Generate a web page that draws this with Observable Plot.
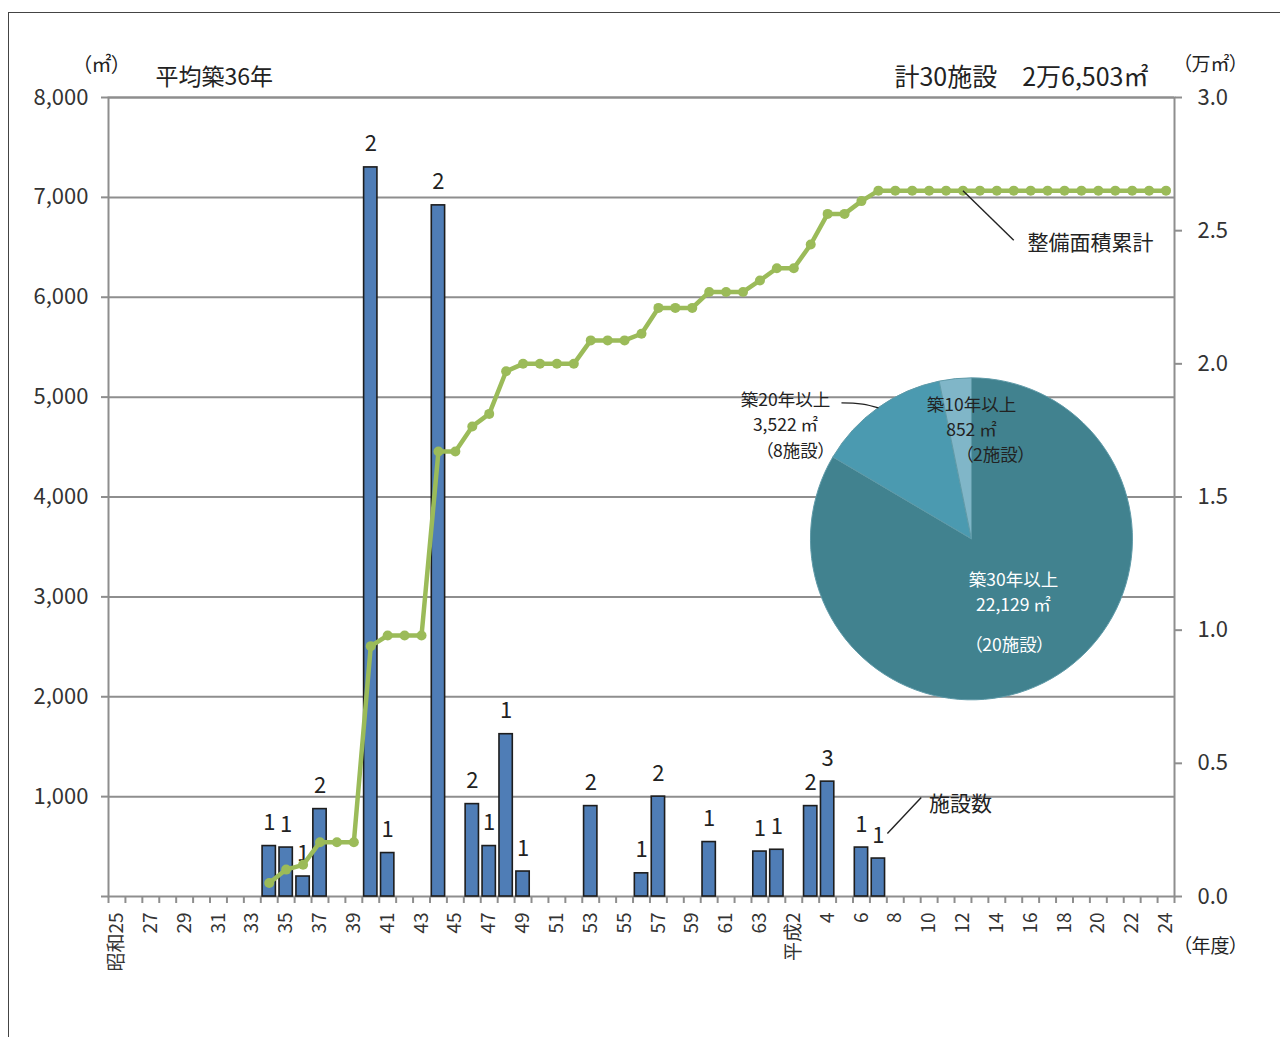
<!DOCTYPE html>
<html><head><meta charset="utf-8">
<script src="https://cdn.jsdelivr.net/npm/d3@7"></script>
<script src="https://cdn.jsdelivr.net/npm/@observablehq/plot@0.6"></script>
<style>
body{margin:0;background:#fff;overflow:hidden}
#wrap{position:relative;width:1280px;height:1037px;overflow:hidden}
#border{position:absolute;left:8px;top:12px;width:1400px;height:1200px;border:1.5px solid #444;pointer-events:none}
#wrap svg{position:absolute;left:0;top:0;font-feature-settings:"palt"}
</style></head><body><div id="wrap"><div id="border"></div></div>
<script>
// ---- categories (fiscal years, 昭和25 = 1950 … 平成24 = 2012)
const fiscalYears = d3.range(1950, 2013);
const tickYears = [1950,1952,1954,1956,1958,1960,1962,1964,1966,1968,1970,1972,1974,1976,1978,1980,1982,1984,1986,1988,1990,1992,1994,1996,1998,2000,2002,2004,2006,2008,2010,2012];
const tickLabels = ["昭和25","27","29","31","33","35","37","39","41","43","45","47","49","51","53","55","57","59","61","63","平成2","4","6","8","10","12","14","16","18","20","22","24"];

// ---- bars: area built per year (㎡) and number of facilities
const barYears  = [1959,1960,1961,1962,1965,1966,1969,1971,1972,1973,1974,1978,1981,1982,1985,1988,1989,1991,1992,1994,1995];
const barAreas  = [505,490,200,875,7300,435,6920,925,505,1625,250,905,232,1000,545,450,468,905,1150,490,380];
const barCounts = [1,1,1,2,2,1,2,2,1,1,1,2,1,2,1,1,1,2,3,1,1];

// ---- cumulative area (㎡), right axis in 万㎡
const cumYears = d3.range(1959, 2013);
const cumAreas = [510,1010,1190,2040,2040,2040,9400,9800,9800,9800,16710,16710,17650,18120,19720,20000,20000,20000,20000,20880,20880,20880,21130,22100,22100,22100,22700,22700,22700,23130,23590,23590,24480,25630,25630,26110,26503,26503,26503,26503,26503,26503,26503,26503,26503,26503,26503,26503,26503,26503,26503,26503,26503,26503];

// ---- pie: by building age
const pieLabels = ["築30年以上","築20年以上","築10年以上"];
const pieAreas  = [22129, 3522, 852];
const pieCounts = [20, 8, 2];

const leftTicks  = [0,1000,2000,3000,4000,5000,6000,7000,8000];
const rightTicks = [0,0.5,1.0,1.5,2.0,2.5,3.0];

const toLeft = v => v * 8000 / 30000;          // ㎡ on right scale (0–3万) -> left units
const bw = 1066 / 63;
const grey = "#8e8e8e";
const fmt = d3.format(",");
const tickLabelOf = new Map(tickYears.map((y, i) => [y, tickLabels[i]]));

const bars = barYears.map((year, i) => ({year, area: barAreas[i], count: barCounts[i]}));
const cum = cumYears.map((year, i) => ({year, v: toLeft(cumAreas[i])}));

function pieMark(index, scales, values, dimensions) {
  const {width, height, marginLeft, marginRight, marginTop, marginBottom} = dimensions;
  const cx = marginLeft + 0.81 * (width - marginLeft - marginRight);
  const cy = marginTop + 0.553 * (height - marginTop - marginBottom);
  const r = 161;
  const colors = ["#41828f", "#4b9ab0", "#80b6c8"];
  const data = pieLabels.map((label, i) => ({label, area: pieAreas[i], count: pieCounts[i]}));
  const arcs = d3.pie().sort(null).value(d => d.area)(data);
  const g = d3.create("svg:g").attr("transform", `translate(${cx},${cy})`);
  g.selectAll("path.slice").data(arcs).join("path").attr("class", "slice")
    .attr("d", d3.arc().innerRadius(0).outerRadius(r))
    .attr("fill", (d, i) => colors[i]).attr("stroke", "#5f9aa8").attr("stroke-width", 1);
  const pos = [
    {x: 42, ys: [40, 65, 105], fill: "#fff", dx3: -4},
    {x: -186, ys: [-140, -115, -89], fill: "#222", dx3: 10},
    {x: 0, ys: [-135, -110, -85], fill: "#222", dx3: 24}
  ];
  g.append("path").attr("d", "M-130,-136 C-112,-136 -104,-134 -93,-131").attr("fill", "none").attr("stroke", "#222").attr("stroke-width", 1.3);
  data.forEach((d, i) => {
    const p = pos[i];
    const lines = [d.label, `${fmt(d.area)} ㎡`, `（${d.count}施設）`];
    lines.forEach((t, j) => {
      g.append("text").attr("x", p.x + (j === 2 ? p.dx3 : 0)).attr("y", p.ys[j])
        .attr("text-anchor", "middle").attr("dominant-baseline", "central")
        .attr("font-size", 17.5).attr("fill", p.fill).text(t);
    });
  });
  return g.node();
}

const chart = Plot.plot({
  width: 1280,
  height: 1037,
  marginTop: 97,
  marginBottom: 141,
  marginLeft: 108,
  marginRight: 106,
  style: {fontFamily: "'Noto Sans CJK JP', 'Noto Sans', sans-serif", color: "#333", background: "transparent"},
  x: {type: "band", domain: fiscalYears, padding: 0},
  y: {domain: [0, 8000]},
  marks: [
    Plot.gridY([1000,2000,3000,4000,5000,6000,7000,8000], {stroke: grey, strokeOpacity: 1, strokeWidth: 2}),
    Plot.frame({stroke: grey, strokeWidth: 2}),
    Plot.axisY({anchor: "left", ticks: leftTicks, tickSize: 7, tickPadding: 13, fontSize: 22,
      tickFormat: d => d === 0 ? "" : fmt(d), stroke: grey, strokeWidth: 2, fill: "#333", label: null}),
    Plot.axisY({anchor: "right", ticks: rightTicks.map(v => toLeft(v * 10000)), tickSize: 7, tickPadding: 16, fontSize: 22,
      tickFormat: d => (d * 30000 / 8000 / 10000).toFixed(1), stroke: grey, strokeWidth: 2, fill: "#333", label: null}),
    Plot.axisX({ticks: tickYears, tickFormat: d => tickLabelOf.get(d), tickRotate: -90, tickSize: 0, tickPadding: 16,
      fontSize: 19, fill: "#333", label: null}),
    Plot.ruleX(fiscalYears, {x: d => d, y1: 0, y2: -70, dx: -bw / 2, stroke: grey, strokeWidth: 2}),
    Plot.ruleX([2012], {x: d => d, y1: 0, y2: -70, dx: bw / 2, stroke: grey, strokeWidth: 2}),
    Plot.barY(bars, {x: "year", y: "area", fill: "#4f7db6", stroke: "#1d1d1d", strokeWidth: 1.6, insetLeft: 1.8, insetRight: 1.8}),
    Plot.text(bars, {x: "year", y: "area", text: d => String(d.count), dy: -23, fontSize: 22, fill: "#222"}),
    Plot.lineY(cum, {x: "year", y: "v", stroke: "#9bbb59", strokeWidth: 4.5}),
    Plot.dot(cum, {x: "year", y: "v", r: 5, fill: "#9bbb59"}),
    pieMark,
    Plot.link([0], {x1: () => 2000, y1: () => toLeft(26503), x2: () => 2003, y2: () => 6570, stroke: "#222", strokeWidth: 1.4}),
    Plot.link([0], {x1: () => 1995, y1: () => 631, x2: () => 1997, y2: () => 991, dx: 9, stroke: "#222", strokeWidth: 1.4}),
    Plot.text(["整備面積累計"], {frameAnchor: "top-right", lineAnchor: "middle", dx: -84, dy: 146, textAnchor: "middle", fontSize: 21, fill: "#222"}),
    Plot.text(["施設数"], {frameAnchor: "bottom-right", lineAnchor: "middle", dx: -214, dy: -92, textAnchor: "middle", fontSize: 21, fill: "#222"}),
    Plot.text(["（㎡）"], {frameAnchor: "top-left", lineAnchor: "middle", dx: -7, dy: -32, textAnchor: "middle", fontSize: 20, fill: "#222"}),
    Plot.text(["平均築36年"], {frameAnchor: "top-left", lineAnchor: "middle", dx: 47, dy: -20, textAnchor: "start", fontSize: 23, fill: "#222"}),
    Plot.text(["計30施設　2万6,503㎡"], {frameAnchor: "top-right", lineAnchor: "middle", dx: -26, dy: -20, textAnchor: "end", fontSize: 25, fill: "#222"}),
    Plot.text(["（万㎡）"], {frameAnchor: "top-right", lineAnchor: "middle", dx: 36, dy: -33, textAnchor: "middle", fontSize: 19, fill: "#222"}),
    Plot.text(["（年度）"], {frameAnchor: "bottom-right", lineAnchor: "middle", dx: 36, dy: 50, textAnchor: "middle", fontSize: 19, fill: "#222"})
  ]
});
document.getElementById("wrap").appendChild(chart);
</script>
</body></html>
